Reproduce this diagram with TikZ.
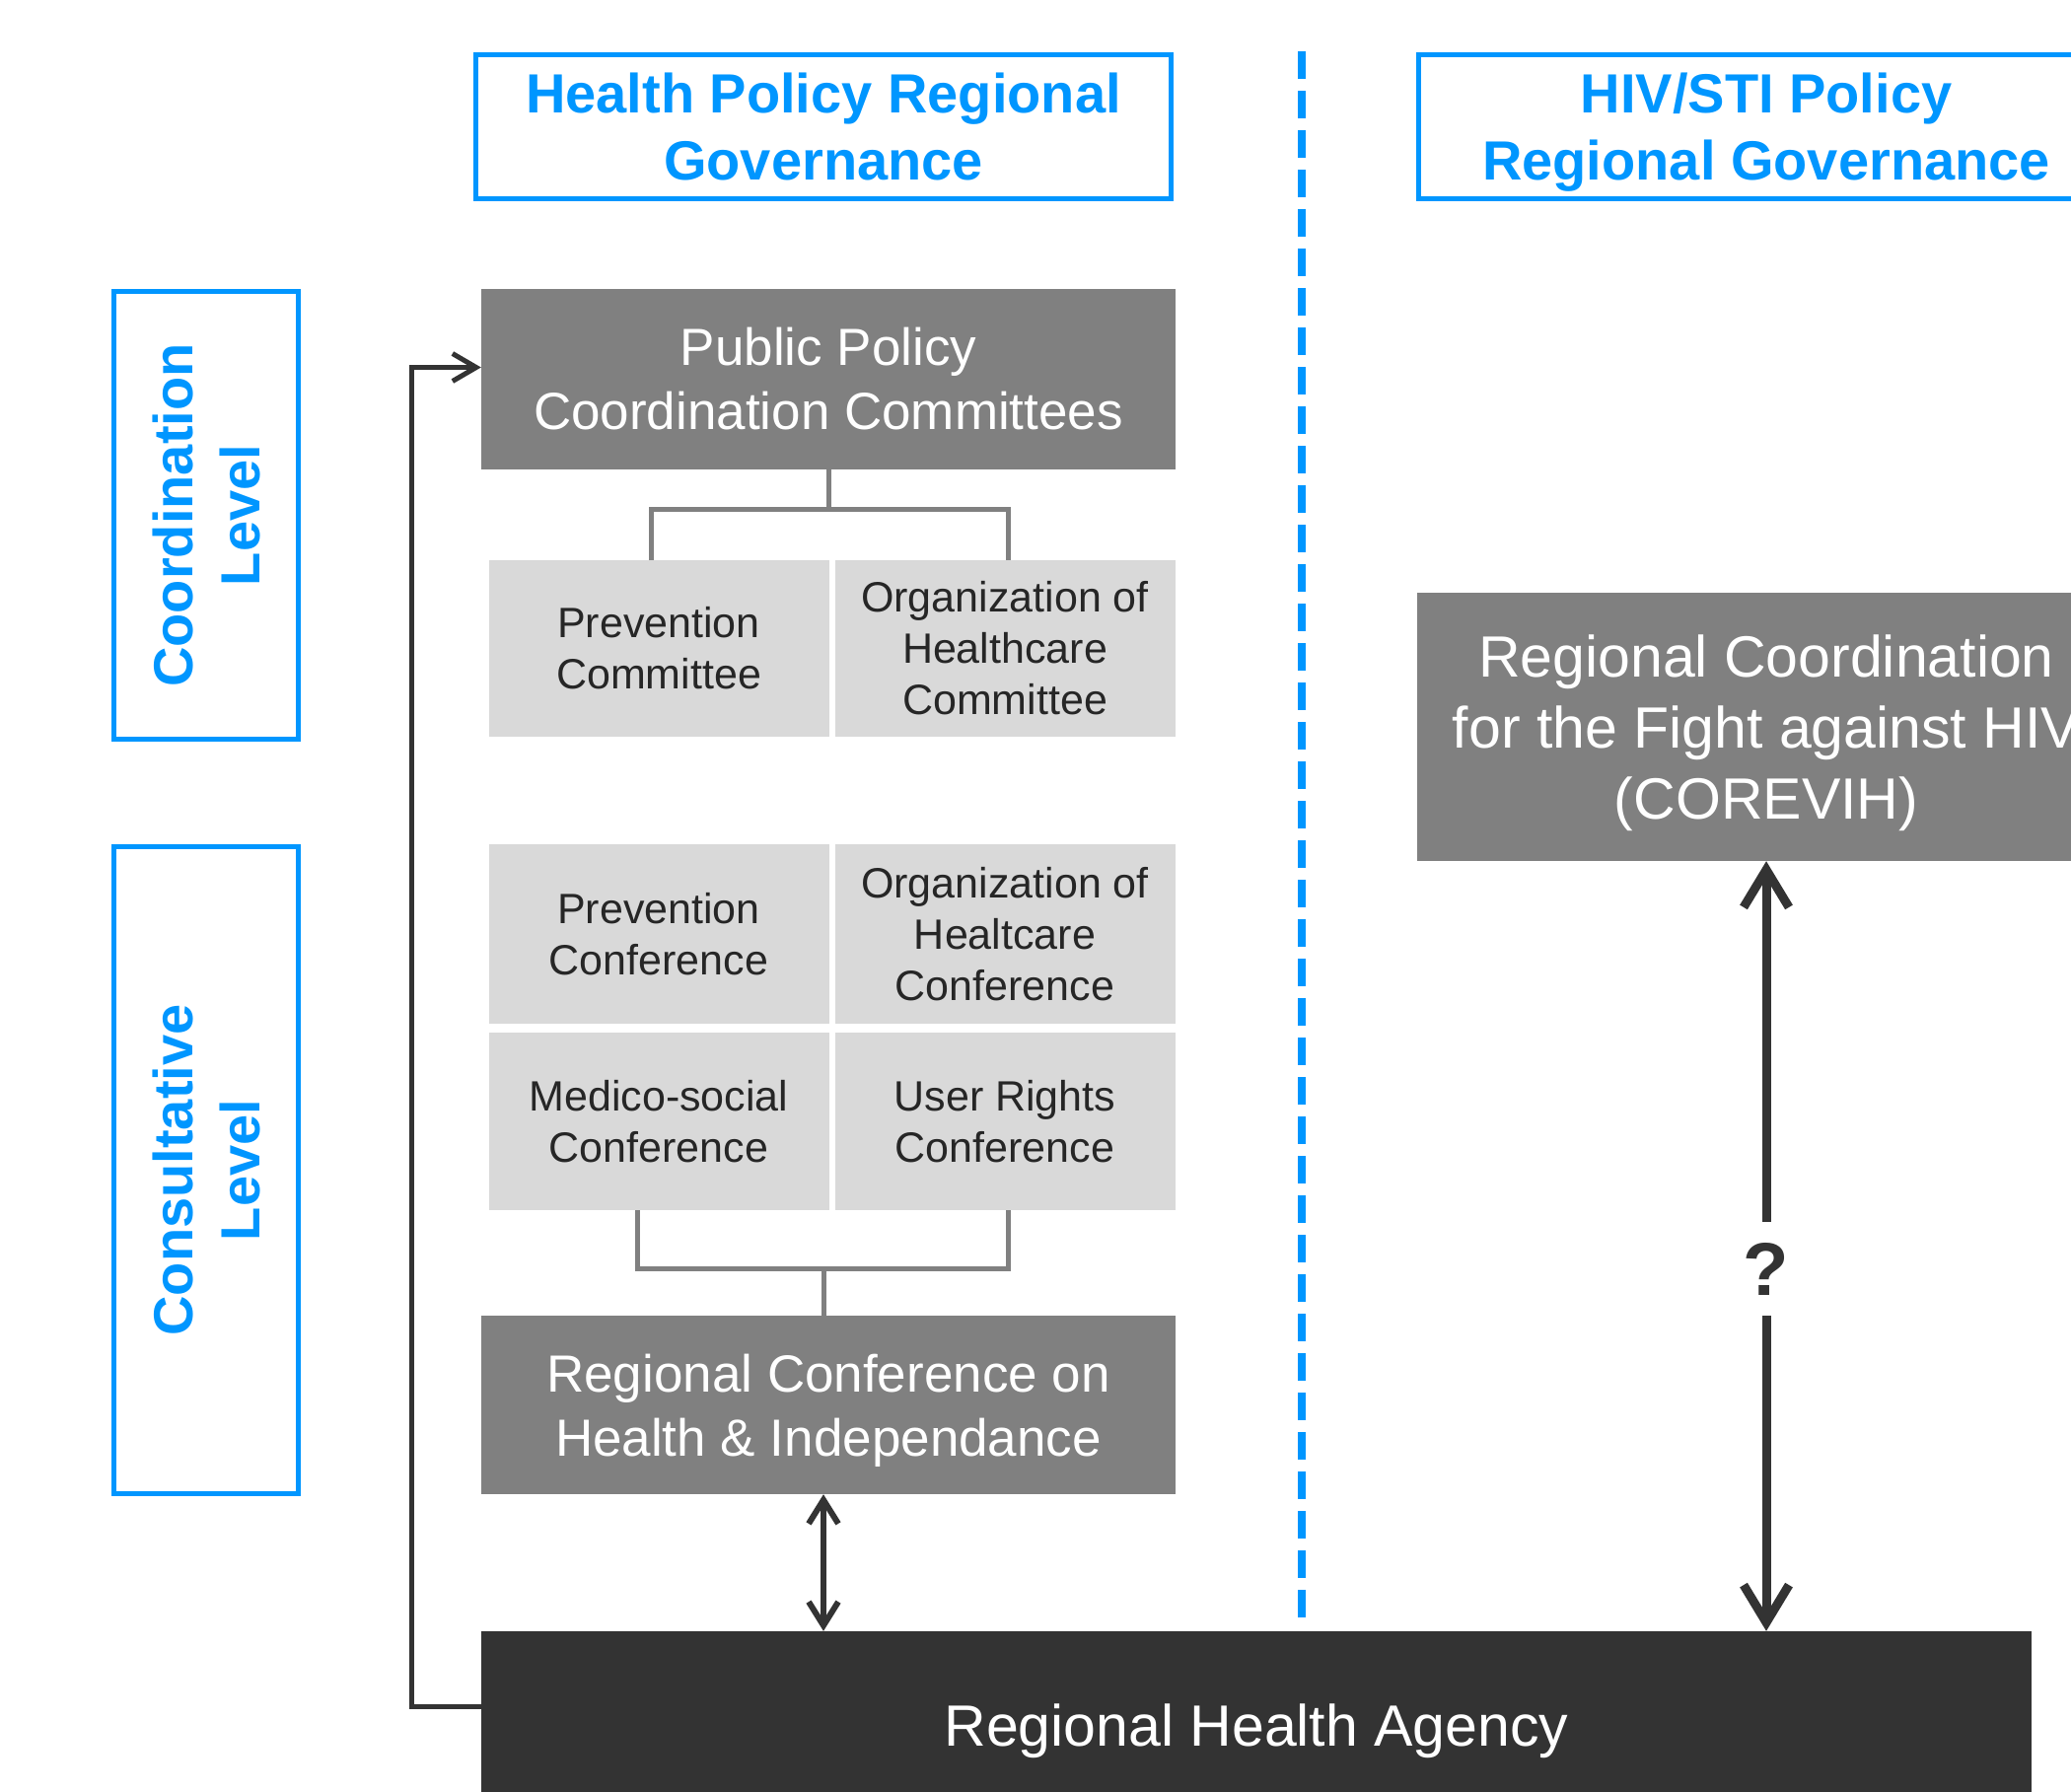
\documentclass[tikz,border=0pt]{standalone}
\usepackage{fontspec}
\setmainfont{Liberation Sans}
\usetikzlibrary{arrows.meta}
\definecolor{blu}{HTML}{0096FF}
\definecolor{gbox}{HTML}{808080}
\definecolor{lbox}{HTML}{D9D9D9}
\definecolor{dbox}{HTML}{333333}
\definecolor{ltxt}{HTML}{262626}
\newcommand{\nodepth}[1]{\raisebox{0pt}[\height][0pt]{#1}}
\begin{document}
\begin{tikzpicture}[x=1pt,y=-1pt,
  title/.style={draw=blu, line width=5pt, text=blu, align=center, inner sep=0pt,
    font=\bfseries\fontsize{56}{68}\selectfont, minimum width=705pt, minimum height=146pt},
  level/.style={draw=blu, line width=5pt, text=blu, align=center, inner sep=0pt, rotate=90,
    font=\bfseries\fontsize{56}{68}\selectfont, minimum height=187pt},
  midbox/.style={fill=gbox, text=white, align=center, inner sep=0pt,
    font=\fontsize{53}{65}\selectfont, minimum width=704pt},
  lightbox/.style={fill=lbox, text=ltxt, align=center, inner sep=0pt,
    font=\fontsize{43}{52}\selectfont, minimum width=345pt},
  darkbox/.style={fill=dbox, text=white, align=center, inner sep=0pt,
    font=\fontsize{59}{72}\selectfont},
  tree/.style={draw=gbox, line width=5pt},
  fb/.style={draw=dbox, line width=5pt, -{Straight Barb[length=24pt,width=28pt]}},
  dbl/.style={draw=dbox, line width=6pt, {Straight Barb[length=24pt,width=30pt]}-{Straight Barb[length=24pt,width=30pt]}},
  qarr/.style={draw=dbox, line width=9pt, -{Straight Barb[length=38pt,width=46pt]}},
]
\useasboundingbox (0,0) rectangle (2100,1816);
\clip (0,0) rectangle (2100,1816);

% titles
\node[title] (hp) at (835,128.5) {Health Policy Regional\\Governance};
\node[title] (hiv) at (1791,128.5) {HIV/STI Policy\\\nodepth{Regional Governance}};

% dashed separator
\coordinate (dtop) at (1320,52);
\coordinate (dbot) at (1320,1647);
\draw[blu, line width=8pt, dash pattern=on 28pt off 12pt] (dtop) -- (dbot);

% level boxes
\node[level, minimum width=454pt] (cl) at (209,522.5) {Coordination\\Level};
\node[level, minimum width=656pt] (csl) at (209,1186.5) {Consultative\\Level};

% coordination
\node[midbox, minimum height=183pt] (pp) at (840,384.5) {Public Policy\\Coordination Committees};
\node[lightbox, minimum height=179pt] (pc) at (668,657.5) {Prevention\\Committee};
\node[lightbox, minimum height=179pt] (oc) at (1019,657.5) {Organization of\\Healthcare\\Committee};

% consultative
\node[lightbox, minimum height=182pt] (pcf) at (668,947) {Prevention\\Conference};
\node[lightbox, minimum height=182pt] (ocf) at (1019,947) {Organization of\\Healtcare\\Conference};
\node[lightbox, minimum height=180pt] (msc) at (668,1137) {Medico-social\\Conference};
\node[lightbox, minimum height=180pt] (urc) at (1019,1137) {User Rights\\Conference};
\node[midbox, minimum height=181pt] (rc) at (840,1424.5) {Regional Conference on\\\nodepth{Health \& Independance}};

% agency and COREVIH
\node[darkbox, minimum width=1572pt, minimum height=202pt] (rha) at (1274,1755) {Regional Health Agency};
\node[darkbox, fill=gbox, minimum width=708pt, minimum height=272pt] (cor) at (1791,737)
  {Regional Coordination\\for the Fight against HIV\\\nodepth{(COREVIH)}};

% tree connectors
\coordinate (tj) at (840,516);
\draw[tree] (pp.south) -- (tj);
\draw[tree] ([xshift=-8pt]pc.north) |- (tj) -| ([xshift=3pt]oc.north);
\coordinate (bj) at (835,1286);
\draw[tree] ([xshift=-22pt]msc.south) |- (bj) -| ([xshift=3pt]urc.south);
\draw[tree] (bj) -- (bj |- rc.north);

% arrows
\draw[dbl] (bj |- rc.south) -- (bj |- rha.north);
\draw[fb] ([yshift=25pt]rha.west) -- ++(-70,0) |- ([yshift=12pt]pp.west);

\node[text=dbox, font=\bfseries\fontsize{76}{76}\selectfont, inner sep=0pt, minimum height=95pt] (q) at (1791,1286.5) {?};
\draw[qarr] (q.north) -- (cor.south);
\draw[qarr] (q.south) -- (q.south |- rha.north);
\end{tikzpicture}
\end{document}
